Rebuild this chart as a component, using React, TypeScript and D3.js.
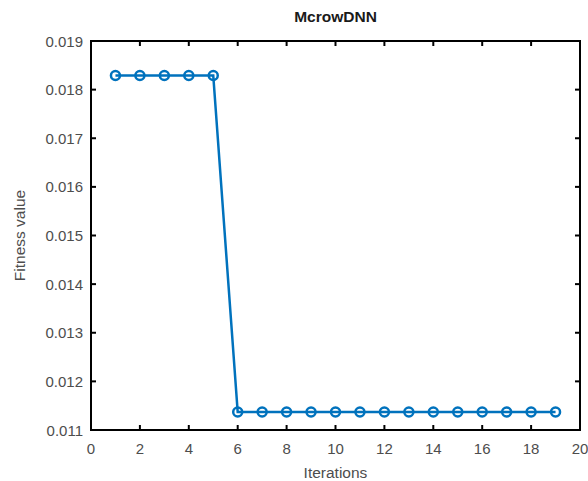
import { useEffect, useRef } from "react";
import * as d3 from "d3";

// chart data
const iterations = [1, 2, 3, 4, 5, 6, 7, 8, 9, 10, 11, 12, 13, 14, 15, 16, 17, 18, 19];
const fitness = [
  0.01829, 0.01829, 0.01829, 0.01829, 0.01829, 0.01137, 0.01137, 0.01137, 0.01137, 0.01137,
  0.01137, 0.01137, 0.01137, 0.01137, 0.01137, 0.01137, 0.01137, 0.01137, 0.01137,
];
const xTicks = [0, 2, 4, 6, 8, 10, 12, 14, 16, 18, 20];
const yTicks = [0.011, 0.012, 0.013, 0.014, 0.015, 0.016, 0.017, 0.018, 0.019];

const WIDTH = 588;
const HEIGHT = 481;
const MARGIN = { top: 41, right: 8, bottom: 51, left: 91 };
const FONT = "'Liberation Sans', Arial, Helvetica, sans-serif";
const LINE = "#0072bd";
const TEXT = "#4d4d4d";

export default function App() {
  const ref = useRef<SVGGElement>(null);
  const boundsWidth = WIDTH - MARGIN.left - MARGIN.right;
  const boundsHeight = HEIGHT - MARGIN.top - MARGIN.bottom;

  useEffect(() => {
    const g = d3.select(ref.current);
    g.selectAll("*").remove();

    const x = d3.scaleLinear().domain([0, 20]).range([0, boundsWidth]);
    const y = d3.scaleLinear().domain([0.011, 0.019]).range([boundsHeight, 0]);
    const tick = 5;

    // inward ticks on all four sides (box on)
    const axes = g.append("g").attr("stroke", "#000").attr("stroke-width", 2);
    xTicks.forEach((t) => {
      axes.append("line").attr("x1", x(t)).attr("x2", x(t)).attr("y1", boundsHeight).attr("y2", boundsHeight - tick);
      axes.append("line").attr("x1", x(t)).attr("x2", x(t)).attr("y1", 0).attr("y2", tick);
    });
    yTicks.forEach((t) => {
      axes.append("line").attr("x1", 0).attr("x2", tick).attr("y1", y(t)).attr("y2", y(t));
      axes.append("line").attr("x1", boundsWidth).attr("x2", boundsWidth - tick).attr("y1", y(t)).attr("y2", y(t));
    });
    axes
      .append("rect")
      .attr("width", boundsWidth)
      .attr("height", boundsHeight)
      .attr("fill", "none");

    // tick labels
    g.selectAll(".xt")
      .data(xTicks)
      .join("text")
      .attr("x", (d) => x(d))
      .attr("y", boundsHeight + 24)
      .attr("text-anchor", "middle")
      .attr("font-size", 15)
      .attr("fill", TEXT)
      .text((d) => d);
    g.selectAll(".yt")
      .data(yTicks)
      .join("text")
      .attr("x", -8)
      .attr("y", (d) => y(d) + 5.5)
      .attr("text-anchor", "end")
      .attr("font-size", 15)
      .attr("fill", TEXT)
      .text((d) => d3.format(".3f")(d));

    // line and hollow circle markers
    const pts = iterations.map((it, i) => [it, fitness[i]] as [number, number]);
    const line = d3
      .line<[number, number]>()
      .x((d) => x(d[0]))
      .y((d) => y(d[1]));
    g.append("path")
      .datum(pts)
      .attr("d", line)
      .attr("fill", "none")
      .attr("stroke", LINE)
      .attr("stroke-width", 2.5);
    g.selectAll(".m")
      .data(pts)
      .join("circle")
      .attr("cx", (d) => x(d[0]))
      .attr("cy", (d) => y(d[1]))
      .attr("r", 4.5)
      .attr("fill", "none")
      .attr("stroke", LINE)
      .attr("stroke-width", 2.5);

    // titles
    g.append("text")
      .attr("x", boundsWidth / 2)
      .attr("y", -19)
      .attr("text-anchor", "middle")
      .attr("font-size", 15.5)
      .attr("font-weight", "bold")
      .attr("fill", "#1a1a1a")
      .text("McrowDNN");
    g.append("text")
      .attr("x", boundsWidth / 2)
      .attr("y", boundsHeight + 48)
      .attr("text-anchor", "middle")
      .attr("font-size", 15.5)
      .attr("fill", TEXT)
      .text("Iterations");
    g.append("text")
      .attr("transform", `translate(${-66},${boundsHeight / 2}) rotate(-90)`)
      .attr("text-anchor", "middle")
      .attr("font-size", 15.5)
      .attr("fill", TEXT)
      .text("Fitness value");
  }, [boundsWidth, boundsHeight]);

  return (
    <svg
      width={WIDTH}
      height={HEIGHT}
      style={{ position: "absolute", left: 0, top: 0, background: "#fff" }}
      fontFamily={FONT}
    >
      <g ref={ref} transform={`translate(${MARGIN.left},${MARGIN.top})`} />
    </svg>
  );
}
